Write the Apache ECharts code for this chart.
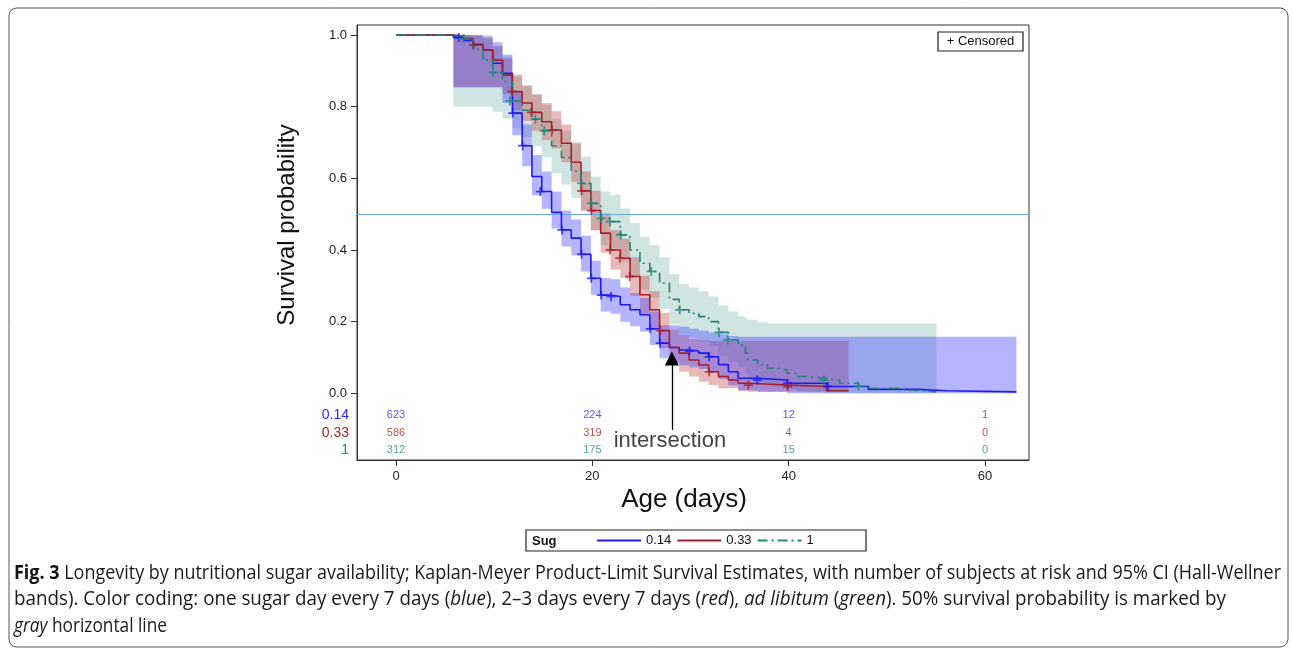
<!DOCTYPE html>
<html><head><meta charset="utf-8">
<script src="https://cdn.jsdelivr.net/npm/echarts@6/dist/echarts.min.js"></script>
<style>html,body{margin:0;padding:0;background:#fff}#c{width:1293px;height:649px}</style>
</head><body><div id="c"></div>
<script>
// ---------------- DATA ----------------
const groups = ['0.14', '0.33', '1'];
const xTicks = [0, 20, 40, 60];
const yTicks = [0, 0.2, 0.4, 0.6, 0.8, 1.0];

// Sug = 0.14 (blue)
const blueT = [0, 5.85, 6.85, 7.85, 8.85, 9.85, 10.85, 11.85, 12.85, 13.85, 14.85, 15.85, 16.85, 17.85, 18.85, 19.85, 20.85, 21.85, 22.85, 23.85, 24.85, 25.85, 26.85, 27.85, 28.85, 29.85, 30.85, 31.85, 32.85, 33.85, 34.85, 36.85, 39.85, 43.85, 48.1, 53.2, 56.1, 63.2];
const blueS = [1.0, 0.993, 0.985, 0.974, 0.958, 0.921, 0.893, 0.782, 0.691, 0.605, 0.563, 0.505, 0.456, 0.433, 0.388, 0.321, 0.274, 0.270, 0.247, 0.233, 0.219, 0.180, 0.140, 0.128, 0.121, 0.118, 0.112, 0.102, 0.080, 0.060, 0.042, 0.037, 0.028, 0.019, 0.011, 0.007, 0.004, 0.004];
const blueLo = [null, 0.854, 0.854, 0.854, 0.854, 0.854, 0.81, 0.72, 0.634, 0.553, 0.515, 0.46, 0.41, 0.385, 0.34, 0.275, 0.228, 0.222, 0.20, 0.187, 0.172, 0.135, 0.098, 0.085, 0.078, 0.073, 0.068, 0.058, 0.04, 0.022, 0.008, 0.004, 0, 0, 0, 0, 0, 0];
const blueHi = [null, 1.0, 1.0, 1.0, 0.995, 0.98, 0.945, 0.84, 0.75, 0.665, 0.619, 0.563, 0.51, 0.485, 0.44, 0.37, 0.322, 0.318, 0.295, 0.28, 0.266, 0.228, 0.19, 0.19, 0.186, 0.18, 0.175, 0.17, 0.165, 0.16, 0.158, 0.158, 0.158, 0.158, 0.158, 0.158, 0.158, 0.158];
const blueCens = [[6.4, 0.993], [11.9, 0.782], [12.9, 0.691], [14.7, 0.563], [16.9, 0.456], [18.9, 0.388], [19.9, 0.321], [20.9, 0.274], [21.9, 0.270], [25.9, 0.180], [26.9, 0.140], [29.9, 0.118], [31.9, 0.102], [36.8, 0.037], [39.9, 0.028], [44.0, 0.019]];

// Sug = 0.33 (red)
const redT = [0, 5.85, 6.85, 7.85, 8.85, 9.85, 10.85, 11.85, 12.85, 13.85, 14.85, 15.85, 16.85, 17.85, 18.85, 19.85, 20.85, 21.85, 22.85, 23.85, 24.85, 25.85, 26.85, 27.85, 28.85, 29.85, 30.85, 31.85, 32.85, 33.85, 34.85, 35.85, 39.85, 43.85, 46.1];
const redS = [1.0, 0.997, 0.99, 0.972, 0.958, 0.93, 0.888, 0.842, 0.81, 0.784, 0.758, 0.735, 0.698, 0.645, 0.565, 0.51, 0.447, 0.40, 0.377, 0.326, 0.275, 0.233, 0.175, 0.128, 0.112, 0.093, 0.079, 0.06, 0.047, 0.037, 0.028, 0.023, 0.019, 0.007, 0.007];
const redLo = [null, 0.854, 0.854, 0.854, 0.854, 0.854, 0.835, 0.79, 0.76, 0.733, 0.706, 0.683, 0.645, 0.59, 0.51, 0.455, 0.392, 0.345, 0.322, 0.272, 0.222, 0.182, 0.126, 0.083, 0.06, 0.047, 0.032, 0.023, 0.014, 0.014, 0.007, 0.004, 0.004, 0.004, 0.004];
const redHi = [null, 1.0, 1.0, 0.997, 0.99, 0.97, 0.935, 0.89, 0.858, 0.834, 0.81, 0.787, 0.75, 0.70, 0.62, 0.565, 0.502, 0.455, 0.432, 0.38, 0.328, 0.285, 0.225, 0.178, 0.163, 0.152, 0.148, 0.146, 0.146, 0.146, 0.146, 0.146, 0.146, 0.146, 0.146];
const redCens = [[7.9, 0.972], [11.8, 0.842], [13.8, 0.784], [15.9, 0.735], [18.9, 0.565], [19.9, 0.51], [21.8, 0.40], [22.8, 0.377], [23.8, 0.326], [26.9, 0.175], [31.9, 0.06], [35.9, 0.023], [39.9, 0.019]];

// Sug = 1 (green)
const greenT = [0, 5.85, 6.85, 7.85, 8.85, 9.85, 10.85, 11.85, 12.85, 13.85, 14.85, 15.85, 16.85, 17.85, 18.85, 19.85, 20.85, 21.85, 22.85, 23.85, 24.85, 25.85, 26.85, 27.85, 28.85, 29.85, 30.85, 31.85, 32.85, 33.85, 34.85, 35.6, 35.85, 36.85, 37.85, 38.85, 39.85, 40.85, 41.85, 43.6, 45.2, 47.1, 48.1, 51, 52.4, 55.05];
const greenS = [1.0, 0.997, 0.99, 0.96, 0.93, 0.895, 0.87, 0.816, 0.79, 0.765, 0.733, 0.691, 0.658, 0.62, 0.586, 0.53, 0.488, 0.479, 0.442, 0.40, 0.363, 0.34, 0.307, 0.262, 0.233, 0.223, 0.214, 0.20, 0.17, 0.149, 0.135, 0.112, 0.093, 0.079, 0.07, 0.065, 0.056, 0.047, 0.042, 0.037, 0.028, 0.02, 0.014, 0.009, 0.004, 0.004];
const greenLo = [null, 0.80, 0.80, 0.80, 0.80, 0.786, 0.767, 0.74, 0.715, 0.69, 0.658, 0.615, 0.583, 0.545, 0.51, 0.455, 0.413, 0.404, 0.367, 0.325, 0.29, 0.267, 0.235, 0.192, 0.165, 0.155, 0.145, 0.132, 0.105, 0.087, 0.074, 0.055, 0.04, 0.03, 0.022, 0.018, 0.012, 0.006, 0.003, 0, 0, 0, 0, 0, 0, 0];
const greenHi = [null, 1.0, 1.0, 1.0, 1.0, 0.965, 0.94, 0.885, 0.86, 0.835, 0.805, 0.765, 0.733, 0.695, 0.66, 0.605, 0.563, 0.554, 0.516, 0.475, 0.437, 0.413, 0.38, 0.333, 0.305, 0.295, 0.285, 0.27, 0.245, 0.228, 0.215, 0.21, 0.205, 0.198, 0.195, 0.195, 0.195, 0.195, 0.195, 0.195, 0.195, 0.195, 0.195, 0.195, 0.195, 0.195];
const greenCens = [[6.9, 0.99], [9.9, 0.895], [11.6, 0.816], [14.2, 0.765], [15.1, 0.733], [18.9, 0.586], [19.9, 0.53], [20.9, 0.488], [21.8, 0.479], [22.9, 0.442], [26.0, 0.34], [28.9, 0.233], [32.9, 0.17], [33.8, 0.149], [43.6, 0.037], [47.1, 0.02]];

// number at risk
const riskTimes = [0, 20, 40, 60];
const risk014 = [623, 224, 12, 1];
const risk033 = [586, 319, 4, 0];
const risk1 = [312, 175, 15, 0];

const refLine = 0.5;
const intersectionDay = 28.1;

// ---------------- STYLE / LAYOUT ----------------
const FONT = '"Liberation Sans", Arial, sans-serif';
const C = {
  blue: '#1c1cf2', red: '#a3202a', green: '#22857a',
  blueTxt: '#2b2bff', redTxt: '#a62a2a', greenTxt: '#23877b',
  blueBand: 'rgba(60,60,255,0.38)', redBand: 'rgba(190,60,60,0.36)', greenBand: 'rgba(100,170,160,0.30)'
};
const ROW_Y = [-0.061, -0.111, -0.159];
const PLUS = 'path://M4,0H6V4H10V6H6V10H4V6H0V4H4Z';

function bandSeries(T, lo, hi, color) {
  return {
    type: 'custom', coordinateSystem: 'cartesian2d', silent: true, z: 2,
    data: [[T[1], hi[1]]],
    renderItem: function (params, api) {
      const up = [], dn = [];
      for (let i = 1; i < T.length - 1; i++) {
        up.push(api.coord([T[i], hi[i]]), api.coord([T[i + 1], hi[i]]));
        dn.push(api.coord([T[i], lo[i]]), api.coord([T[i + 1], lo[i]]));
      }
      return { type: 'polygon', shape: { points: up.concat(dn.reverse()) }, style: { fill: color } };
    }
  };
}
function kmLine(name, T, S, color, type) {
  return {
    name, type: 'line', step: 'end', data: T.map((t, i) => [t, S[i]]), symbol: 'none', silent: true, z: 5,
    lineStyle: { color, width: 1.6, type }, itemStyle: { color }
  };
}
function censSeries(d, color) {
  return { type: 'scatter', data: d, symbol: PLUS, symbolSize: 9, itemStyle: { color }, silent: true, z: 6 };
}
function riskSeries(vals, row, color) {
  return {
    type: 'scatter', silent: true, z: 6, symbolSize: 0,
    data: riskTimes.map((t, i) => [t, ROW_Y[row], vals[i]]),
    label: { show: true, position: 'inside', formatter: p => String(p.value[2]), color, fontSize: 11, fontFamily: FONT }
  };
}

const chart = echarts.init(document.getElementById('c'), null, { renderer: 'canvas' });

const greenLine = kmLine('1', greenT, greenS, C.green, [10, 4, 2, 4]);
greenLine.markLine = {
  silent: true, symbol: ['none', 'none'], label: { show: false },
  lineStyle: { color: '#6aa8df', width: 1.2, type: 'solid' },
  data: [{ yAxis: refLine }]
};
const redLine = kmLine('0.33', redT, redS, C.red, 'solid');
redLine.markLine = {
  silent: true, symbol: ['none', 'triangle'], symbolSize: 14, label: { show: false },
  lineStyle: { color: '#000', width: 1.3, type: 'solid' }, itemStyle: { color: '#000' },
  data: [[{ coord: [intersectionDay, -0.102] }, { coord: [intersectionDay, 0.097] }]]
};

const option = {
  animation: false,
  backgroundColor: '#fff',
  textStyle: { fontFamily: FONT },
  grid: { left: 357, right: 264, top: 25, bottom: 189, show: true, borderColor: '#333', borderWidth: 1 },
  xAxis: {
    type: 'value', min: -3.973, max: 64.48,
    axisLine: { show: true, onZero: false, lineStyle: { color: '#333' } },
    axisTick: { show: true, customValues: xTicks, length: 6, lineStyle: { color: '#333' } },
    axisLabel: { customValues: xTicks, fontSize: 13, color: '#222', margin: 10 },
    splitLine: { show: false }
  },
  yAxis: {
    type: 'value', min: -0.1862, max: 1.0279,
    axisLine: { show: true, onZero: false, lineStyle: { color: '#333' } },
    axisTick: { show: true, customValues: yTicks, length: 6, lineStyle: { color: '#333' } },
    axisLabel: { customValues: yTicks, fontSize: 13, color: '#222', margin: 10, formatter: v => v.toFixed(1) },
    splitLine: { show: false }
  },
  legend: {
    data: groups, left: 596, top: 534, itemWidth: 44, itemHeight: 14, itemGap: 5, padding: 0,
    itemStyle: { opacity: 0, borderWidth: 0 },
    textStyle: { fontSize: 13, color: '#111', fontFamily: FONT }, selectedMode: false
  },
  series: [
    bandSeries(greenT, greenLo, greenHi, C.greenBand),
    bandSeries(redT, redLo, redHi, C.redBand),
    bandSeries(blueT, blueLo, blueHi, C.blueBand),
    kmLine('0.14', blueT, blueS, C.blue, 'solid'),
    redLine,
    greenLine,
    censSeries(blueCens, C.blue),
    censSeries(redCens, C.red),
    censSeries(greenCens, C.green),
    riskSeries(risk014, 0, C.blueTxt),
    riskSeries(risk033, 1, C.redTxt),
    riskSeries(risk1, 2, C.greenTxt),
    {
      type: 'scatter', silent: true, symbolSize: 0, z: 7,
      data: [[intersectionDay - 0.2, -0.133]],
      label: { show: true, position: 'inside', formatter: 'intersection', fontSize: 22, color: '#111', fontFamily: FONT }
    }
  ]
};

// caption: each line scaled horizontally to the reference's line length
const capFont = '"Open Sans", "Liberation Sans", sans-serif';
const capSize = 20;
const capTargets = [1267, 1212, 153];
const capLines = [
  '{b|Fig. 3} Longevity by nutritional sugar availability; Kaplan-Meyer Product-Limit Survival Estimates, with number of subjects at risk and 95% CI (Hall-Wellner',
  'bands). Color coding: one sugar day every 7 days ({i|blue}), 2–3 days every 7 days ({i|red}), {i|ad libitum} ({i|green}). 50% survival probability is marked by',
  '{i|gray} horizontal line'
];
const cv = document.createElement('canvas').getContext('2d');
function measureRich(s) {
  let w = 0;
  const re = /\{(\w)\|([^}]*)\}|([^{]+)/g;
  let m;
  while ((m = re.exec(s))) {
    if (m[1]) {
      cv.font = (m[1] === 'b' ? 'bold ' : 'italic ') + capSize + 'px ' + capFont;
      w += cv.measureText(m[2]).width;
    } else {
      cv.font = capSize + 'px ' + capFont;
      w += cv.measureText(m[3]).width;
    }
  }
  return w;
}
const capRich = {
  b: { fontWeight: 'bold', fontSize: capSize, fontFamily: capFont, fill: '#111' },
  i: { fontStyle: 'italic', fontSize: capSize, fontFamily: capFont, fill: '#1a1a1a' }
};

option.graphic = [
  { type: 'rect', silent: true, z: -10, shape: { x: 9, y: 8, width: 1279, height: 639, r: 8 }, style: { fill: 'none', stroke: '#555', lineWidth: 1 } },
  { type: 'text', silent: true, x: 287, y: 225, rotation: Math.PI / 2,
    style: { text: 'Survival probability', font: '24px ' + FONT, fill: '#111', align: 'center', verticalAlign: 'middle' } },
  { type: 'text', silent: true, x: 684, y: 500,
    style: { text: 'Age (days)', font: '26px ' + FONT, fill: '#111', align: 'center', verticalAlign: 'middle' } },
  { type: 'text', silent: true, x: 349, y: 415, style: { text: groups[0], font: '14px ' + FONT, fill: C.blueTxt, align: 'right', verticalAlign: 'middle' } },
  { type: 'text', silent: true, x: 349, y: 433, style: { text: groups[1], font: '14px ' + FONT, fill: C.redTxt, align: 'right', verticalAlign: 'middle' } },
  { type: 'text', silent: true, x: 349, y: 450, style: { text: groups[2], font: '14px ' + FONT, fill: C.greenTxt, align: 'right', verticalAlign: 'middle' } },
  { type: 'rect', silent: true, shape: { x: 938, y: 32, width: 85, height: 19 }, style: { fill: '#fff', stroke: '#222', lineWidth: 1.2 }, z: 20 },
  { type: 'text', silent: true, x: 980.5, y: 41.5, z: 21, style: { text: '+ Censored', font: '13px ' + FONT, fill: '#111', align: 'center', verticalAlign: 'middle' } },
  { type: 'rect', silent: true, shape: { x: 526, y: 530, width: 340, height: 21 }, style: { fill: 'none', stroke: '#222', lineWidth: 1.2 } },
  { type: 'text', silent: true, x: 532, y: 541, style: { text: 'Sug', font: 'bold 13px ' + FONT, fill: '#111', align: 'left', verticalAlign: 'middle' } }
].concat(capLines.map((t, i) => ({
  type: 'text', silent: true, x: 14, y: 573 + i * 26.5, scaleX: capTargets[i] / measureRich(t),
  style: { text: t, fontSize: capSize, fontFamily: capFont, fill: '#1a1a1a', verticalAlign: 'middle', rich: capRich }
})));

chart.setOption(option);
</script>
</body></html>
